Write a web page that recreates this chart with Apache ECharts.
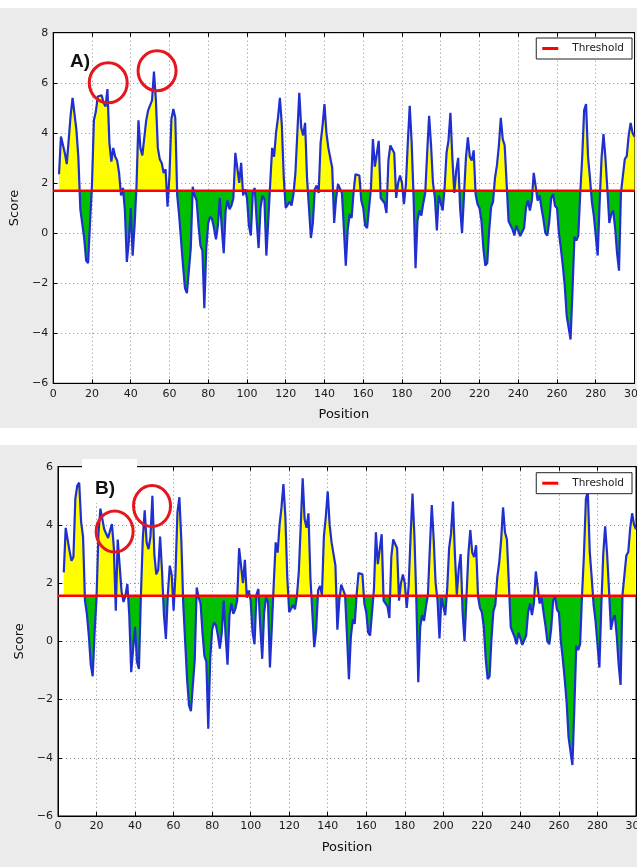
<!DOCTYPE html>
<html>
<head>
<meta charset="utf-8">
<title>Score by position</title>
<script src="https://cdn.jsdelivr.net/npm/echarts@6/dist/echarts.min.js"></script>
<style>
  html, body { margin: 0; padding: 0; background: #ffffff; width: 637px; height: 867px; overflow: hidden; }
  .panel { position: absolute; left: 0; width: 637px; background: #ebebeb; }
  #panelA { top: 8px; height: 420px; }
  #panelB { top: 445px; height: 422px; }
</style>
</head>
<body>
<div id="panelA" class="panel"></div>
<div id="panelB" class="panel"></div>
<script>
// ---- data -------------------------------------------------------------
// first residue position carrying a score
const FIRST_POSITION = 3;

// positions 3..66, run A
const scoreHeadA = [
  2.35, 3.85, 3.8, 3.2, 2.75, 2.8, 4.7, 5.4, 5.45, 4.1,      // 3-12
  3.0, 0.95, 0.9, -0.2, -1.1, -1.2, 0.4, 1.9, 4.5, 4.85,     // 13-22
  5.45, 5.5, 5.5, 5.2, 5.05, 5.75, 3.6, 2.85, 3.4, 3.05,     // 23-32
  2.9, 2.4, 1.5, 1.8, 0.9, -1.15, -0.35, 1.0, -0.9, 0.3,     // 33-42
  1.9, 4.5, 3.4, 3.1, 3.1, 4.5, 4.9, 5.1, 5.3, 6.45,         // 43-52
  5.3, 3.4, 2.95, 2.8, 2.4, 2.55, 1.05, 2.3, 4.55, 4.95,     // 53-62
  4.6, 1.5, 0.7, -0.3                                        // 63-66
];

// positions 3..66, run B
const scoreHeadB = [
  2.37, 3.9, 3.85, 3.1, 2.77, 2.9, 4.9, 5.35, 5.45, 4.1,     // 3-12
  3.6, 1.4, 0.94, 0.2, -0.8, -1.2, 0.3, 1.5, 3.7, 4.56,      // 13-22
  4.56, 3.85, 3.8, 3.55, 3.8, 4.03, 3.2, 1.05, 3.5, 2.6,     // 23-32
  1.7, 1.35, 1.57, 1.97, 0.9, -1.06, -0.25, 0.5, -0.7, -0.95,// 33-42
  1.5, 3.5, 4.5, 3.4, 3.17, 3.6, 5.0, 3.0, 2.3, 2.45,        // 43-52
  3.6, 2.4, 0.9, 0.08, 1.6, 2.6, 2.3, 1.05, 2.37, 4.43,      // 53-62
  4.95, 3.5, 1.3, 0.0                                        // 63-66
];

// positions 67..300, shared by both runs
const scoreTail = [
  -1.3, -2.2, -2.4, -2.4, -0.6, 1.85, 1.5, 1.3, 0.3, -0.5,   // 67-76
  -0.7, -3.0, -0.6, 0.4, 0.65, 0.55, 0.2, -0.25, 0.3, 1.4,   // 77-86
  0.2, -0.8, 0.9, 1.3, 0.95, 1.1, 1.4, 3.2, 3.25, 2.0,       // 87-96
  2.8, 1.5, 1.75, 1.4, 0.3, -0.1, 1.6, 1.8, 0.5, -0.6,       // 97-106
  1.0, 1.5, 1.35, -0.9, 0.5, 2.0, 3.4, 3.05, 4.0, 4.6,       // 107-116
  5.4, 4.3, 2.2, 1.0, 1.0, 1.25, 1.1, 1.55, 2.4, 4.0,        // 117-126
  5.6, 4.2, 3.9, 4.4, 2.2, 1.0, -0.2, 0.4, 1.75, 1.9,        // 127-136
  1.6, 3.6, 4.28, 5.15, 4.0, 3.4, 3.35, 2.6, 0.4, 1.4,       // 137-146
  1.95, 1.95, 1.6, 0.2, -1.3, 0.15, 0.75, 0.6, 1.6, 2.35,    // 147-156
  2.35, 2.3, 1.3, 1.0, 0.3, 0.2, 0.25, 1.8, 3.75, 2.65,      // 157-166
  2.65, 3.68, 1.4, 1.35, 1.2, 0.8, 2.9, 3.5, 3.5, 3.2,       // 167-176
  1.4, 2.0, 2.3, 2.0, 1.15, 1.9, 3.6, 5.08, 3.6, 1.4,        // 177-186
  -1.4, 0.5, 0.9, 0.7, 1.2, 1.6, 3.2, 4.68, 3.5, 2.0,        // 187-196
  1.4, 0.1, 1.5, 1.5, 0.9, 1.8, 3.2, 3.7, 4.8, 3.0,          // 197-206
  1.6, 2.5, 3.0, 1.0, 0.0, 1.5, 3.0, 3.82, 3.05, 2.9,        // 207-216
  3.3, 1.55, 1.15, 1.0, 0.5, -0.6, -1.3, -1.2, 0.1, 1.05,    // 217-226
  1.25, 2.2, 2.7, 3.48, 4.6, 3.75, 3.5, 2.0, 0.48, 0.45,     // 227-236
  0.15, -0.1, 0.3, 0.1, -0.12, -0.12, 0.2, 1.0, 1.3, 0.9,    // 237-246
  1.3, 2.4, 2.4, 1.3, 1.5, 1.0, 0.55, 0.0, -0.1, 0.45,       // 247-256
  1.4, 1.55, 1.08, 1.0, 0.0, -0.6, -1.3, -2.1, -3.3, -3.3,   // 257-266
  -4.25, -2.3, -0.15, -0.3, -0.1, 1.6, 3.0, 4.9, 5.15, 3.07, // 267-276
  2.2, 1.25, 0.7, -0.1, -0.9, 1.2, 3.0, 3.95, 3.0, 1.75,     // 277-286
  0.4, 0.75, 0.9, 0.2, -0.8, -1.5, 1.6, 2.28, 2.95, 3.07,    // 287-296
  3.9, 4.4, 4.0, 3.85                                        // 297-300
];

const thresholdA = 1.69;
const thresholdB = 1.57;

const positionRange = [0, 300];
const scoreRangeA = [-6, 8];
const scoreRangeB = [-6, 6];

// regions singled out with rings (position, score)
const ringsA = [[28.4, 6.0], [53.6, 6.48]];
const ringsB = [[29.4, 3.77], [48.8, 4.65]];

// ---- drawing ----------------------------------------------------------
const TICK_FONT = 'DejaVu Sans';
const minusSign = v => String(v).replace('-', '\u2212');

function drawPanel(elId, p) {
  const chart = echarts.init(document.getElementById(elId), null, { renderer: 'canvas' });
  const scores = p.head.concat(scoreTail);
  const points = scores.map((v, i) => [FIRST_POSITION + i, v]);

  const gridDots = { show: true, lineStyle: { color: '#8c8c8c', width: 1, type: [1, 3] } };
  const ticksIn = { show: true, inside: true, length: 4, lineStyle: { color: '#000', width: 1 } };
  const blackLine = { show: true, onZero: false, lineStyle: { color: '#000', width: 1 } };
  const labelStyle = { fontFamily: TICK_FONT, fontSize: 11, color: '#1a1a1a' };

  chart.setOption({
    animation: false,
    backgroundColor: 'transparent',
    title: {
      text: p.tag, left: p.tagPos[0], top: p.tagPos[1], padding: 0,
      textStyle: { fontFamily: 'Liberation Sans', fontWeight: 'bold', fontSize: 19, color: '#111' }
    },
    legend: {
      data: ['Threshold'], right: p.legendPos[0], top: p.legendPos[1],
      backgroundColor: '#fff', borderColor: '#222', borderWidth: 1, borderRadius: 0,
      padding: [5, 8, 5, 6], itemWidth: 16, itemHeight: 3, icon: 'rect', selectedMode: false,
      textStyle: { fontFamily: TICK_FONT, fontSize: 10.5, color: '#222', padding: [0, 0, 0, 9] }
    },
    grid: {
      left: p.grid[0], top: p.grid[1], width: p.grid[2], height: p.grid[3],
      containLabel: false, outerBoundsMode: 'none',
      show: true, backgroundColor: '#fff', borderColor: '#000', borderWidth: 1
    },
    // fill colour switches at the threshold: yellow above, green below
    visualMap: {
      type: 'piecewise', show: false, seriesIndex: 0, dimension: 1,
      pieces: [
        { gt: p.threshold, lte: 100, color: '#ffff00' },
        { gte: -100, lte: p.threshold, color: '#00c000' }
      ]
    },
    xAxis: [
      {
        type: 'value', position: 'bottom', min: positionRange[0], max: positionRange[1], interval: 20,
        name: 'Position', nameLocation: 'middle', nameGap: p.xNameGap,
        nameTextStyle: { fontFamily: TICK_FONT, fontSize: 13, color: '#111' },
        axisLine: blackLine, axisTick: ticksIn,
        axisLabel: Object.assign({ margin: 5, showMaxLabel: true, showMinLabel: true, formatter: minusSign }, labelStyle),
        splitLine: gridDots
      },
      {
        type: 'value', position: 'top', min: positionRange[0], max: positionRange[1], interval: 20,
        axisLine: blackLine, axisTick: ticksIn, axisLabel: { show: false }, splitLine: { show: false }
      }
    ],
    yAxis: [
      {
        type: 'value', position: 'left', min: p.range[0], max: p.range[1], interval: 2,
        name: 'Score', nameLocation: 'middle', nameGap: p.yNameGap,
        nameTextStyle: { fontFamily: TICK_FONT, fontSize: 13, color: '#111' },
        axisLine: blackLine, axisTick: ticksIn,
        axisLabel: Object.assign({ margin: 5, formatter: minusSign }, labelStyle),
        splitLine: gridDots
      },
      {
        type: 'value', position: 'right', min: p.range[0], max: p.range[1], interval: 2,
        axisLine: blackLine, axisTick: ticksIn, axisLabel: { show: false }, splitLine: { show: false }
      }
    ],
    series: [
      {
        type: 'line', name: 'Score', data: points, symbol: 'none', silent: true, z: 2,
        lineStyle: { color: '#1f2fd0', width: 2.2 },
        areaStyle: { origin: p.threshold, opacity: 1 }
      },
      {
        type: 'line', name: 'Threshold', symbol: 'none', silent: true, z: 3,
        data: [[positionRange[0], p.threshold], [positionRange[1], p.threshold]],
        color: '#ff0000', lineStyle: { color: '#ff0000', width: 2.5 }
      }
    ]
  });

  const graphics = [];
  if (p.tagBox) {
    graphics.push({
      type: 'rect', z: 5, silent: true,
      shape: { x: p.tagBox[0], y: p.tagBox[1], width: p.tagBox[2], height: p.tagBox[3] },
      style: { fill: '#ffffff' }
    });
  }
  p.rings.forEach(r => {
    const c = chart.convertToPixel({ gridIndex: 0 }, r);
    graphics.push({
      type: 'ellipse', z: 20, silent: true,
      shape: { cx: c[0], cy: c[1], rx: p.ringSize[0], ry: p.ringSize[1] },
      style: { fill: 'none', stroke: '#e5161d', lineWidth: 3 }
    });
  });
  chart.setOption({ graphic: graphics });
}

drawPanel('panelA', {
  head: scoreHeadA, threshold: thresholdA, range: scoreRangeA,
  grid: [53.2, 24.7, 581.3, 350.6],
  tag: 'A)', tagPos: [70, 44.5], tagBox: null,
  legendPos: [5, 30],
  xNameGap: 25, yNameGap: 27,
  rings: ringsA, ringSize: [19, 20]
});

drawPanel('panelB', {
  head: scoreHeadB, threshold: thresholdB, range: scoreRangeB,
  grid: [58, 21.7, 578, 349.3],
  tag: 'B)', tagPos: [95, 34.5], tagBox: [82, 14, 55, 44],
  legendPos: [5, 27.7],
  xNameGap: 25, yNameGap: 27,
  rings: ringsB, ringSize: [18.5, 20.5]
});
</script>
</body>
</html>
